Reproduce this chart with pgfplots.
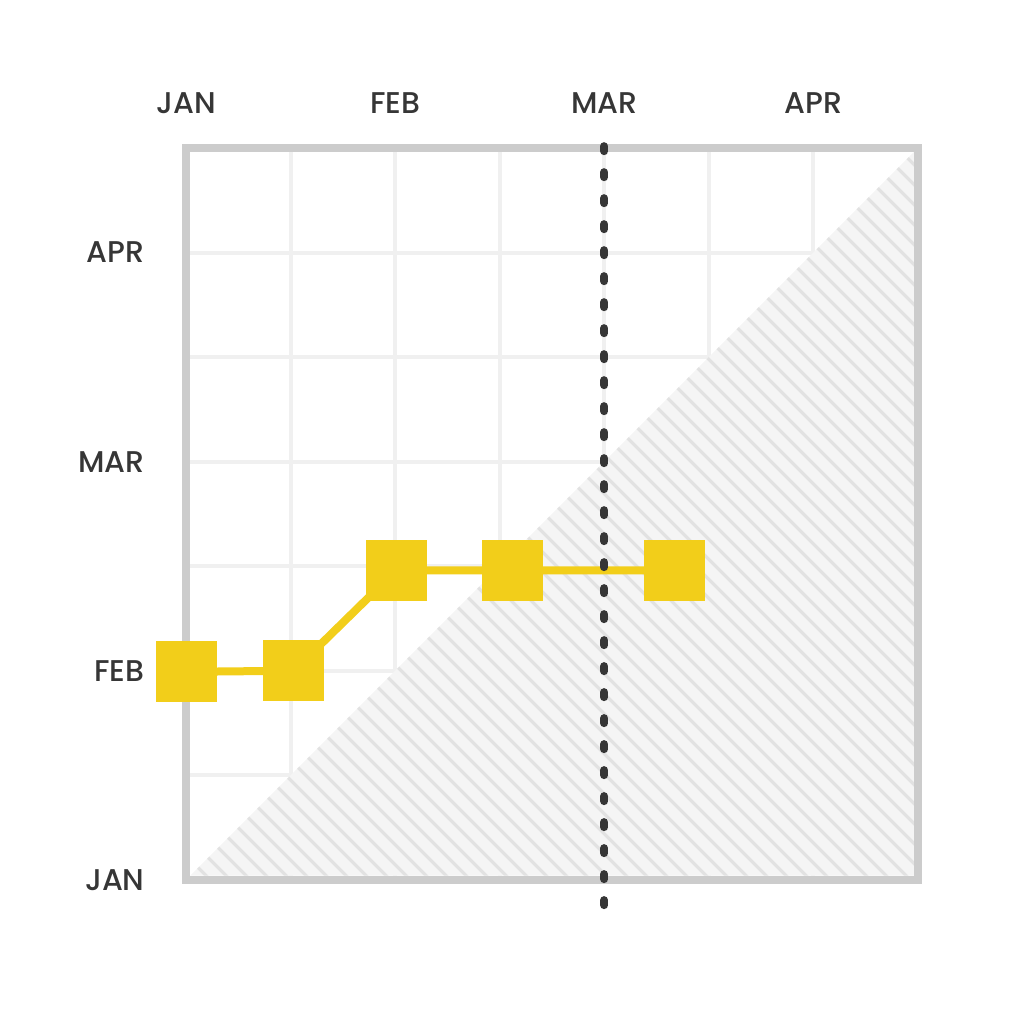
\documentclass[border=0pt]{standalone}
\usepackage{pgfplots}
\pgfplotsset{compat=1.18}
\usetikzlibrary{patterns.meta}
\usepackage{fontspec}
\setmainfont{Poppins Medium}

\definecolor{framec}{HTML}{CCCCCC}
\definecolor{gridc}{HTML}{F0F0F0}
\definecolor{yel}{HTML}{F2CE1A}
\definecolor{ink}{HTML}{363636}
\definecolor{hatchbg}{HTML}{F5F5F5}
\definecolor{hatchc}{HTML}{E2E2E2}

\begin{document}
\begin{tikzpicture}
\begin{axis}[
  scale only axis,
  width=366pt, height=366pt,
  xmin=0, xmax=7, ymin=0, ymax=7,
  xtick={0,...,7}, ytick={0,...,7},
  xticklabels={JAN,,FEB,,MAR,,APR,},
  yticklabels={JAN,,FEB,,MAR,,APR,},
  xticklabel pos=top,
  major tick length=0pt,
  grid=major,
  major grid style={color=gridc, line width=2pt},
  axis line style={color=framec, line width=4pt},
  tick label style={font=\fontsize{15}{18}\selectfont, text=ink, inner sep=0pt},
  xticklabel style={anchor=center, yshift=22.5pt},
  yticklabel style={anchor=east, xshift=-20.5pt},
  clip=false,
]
% hatched area below the diagonal
\addplot[draw=none, fill=hatchbg,
  postaction={pattern color=hatchc, pattern={Lines[angle=-45,distance=7.4pt,line width=1.8pt]}}]
  coordinates {(0.04,0.04) (6.96,0.04) (6.96,6.96)} -- cycle;

% milestone trend
\addplot[color=yel, line width=4pt, mark=square*, mark size=15pt,
  mark options={fill=yel, draw=yel, line width=0pt}]
  coordinates {(0,1.99) (1.03,2.0) (2.01,2.96) (3.12,2.96) (4.67,2.96)};

% today line
\addplot[color=ink, line width=4pt, line cap=round,
  dash pattern=on 2.5pt off 10.5pt]
  coordinates {(4,7.017) (4,-0.30)};

\path (axis cs:-1.779,-1.377) rectangle (axis cs:8.014,8.415);
\end{axis}
\end{tikzpicture}
\end{document}
